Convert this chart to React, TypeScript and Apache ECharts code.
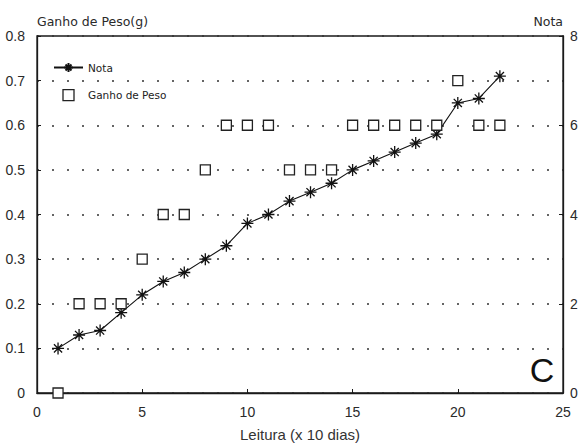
import React, { useEffect, useRef } from "react";
import * as echarts from "echarts";

const leituras = [1, 2, 3, 4, 5, 6, 7, 8, 9, 10, 11, 12, 13, 14, 15, 16, 17, 18, 19, 20, 21, 22];
const nota = [1.0, 1.3, 1.4, 1.8, 2.2, 2.5, 2.7, 3.0, 3.3, 3.8, 4.0, 4.3, 4.5, 4.7, 5.0, 5.2, 5.4, 5.6, 5.8, 6.5, 6.6, 7.1];
const ganhoPeso = [0, 0.2, 0.2, 0.2, 0.3, 0.4, 0.4, 0.5, 0.6, 0.6, 0.6, 0.5, 0.5, 0.5, 0.6, 0.6, 0.6, 0.6, 0.6, 0.7, 0.6, 0.6];

const ASTERISK = "path://M5,0L5,10M0,5L10,5M1.6,1.6L8.4,8.4M1.6,8.4L8.4,1.6";
const SQUARE = "path://M0,0L10,0L10,10L0,10Z";

export default function App() {
  const ref = useRef<HTMLDivElement>(null);
  useEffect(() => {
    if (!ref.current) return;
    const chart = echarts.init(ref.current, null, { renderer: "svg" });
    const labelFont = { fontFamily: "Liberation Sans, Arial, sans-serif", fontSize: 14, color: "#2a2a2a" };
    const nameFont = { fontFamily: "DejaVu Sans, sans-serif", fontSize: 12.5, color: "#2a2a2a" };
    chart.setOption({
      animation: false,
      backgroundColor: "#ffffff",
      grid: {
        left: 37,
        right: 21,
        top: 36,
        bottom: 55,
        show: true,
        borderColor: "#1a1a1a",
        borderWidth: 1.3,
        backgroundColor: "transparent",
      },
      legend: {
        orient: "vertical",
        left: 48,
        top: 57,
        itemWidth: 29,
        itemHeight: 11,
        itemGap: 16,
        textStyle: { fontFamily: "DejaVu Sans, sans-serif", fontSize: 10.5, color: "#222", padding: [0, 0, 0, 0] },
        data: [
          { name: "Nota" },
          { name: "Ganho de Peso", icon: SQUARE, itemStyle: { color: "#ffffff", borderColor: "#222", borderWidth: 1.3 } },
        ],
      },
      xAxis: {
        type: "value",
        min: 0,
        max: 25,
        interval: 5,
        name: "Leitura (x 10 dias)",
        nameLocation: "middle",
        nameGap: 34,
        nameTextStyle: { fontFamily: "Liberation Sans, Arial, sans-serif", fontSize: 15, color: "#333" },
        axisLine: { show: true, lineStyle: { color: "#1a1a1a", width: 1.3 } },
        axisTick: { show: true, inside: true, length: 4, lineStyle: { color: "#1a1a1a" } },
        axisLabel: { ...labelFont, margin: 12 },
        splitLine: { show: false },
      },
      yAxis: [
        {
          type: "value",
          min: 0,
          max: 0.8,
          interval: 0.1,
          position: "left",
          name: "Ganho de Peso(g)",
          nameLocation: "end",
          nameGap: 8,
          nameTextStyle: { ...nameFont, align: "left" },
          axisLine: { show: true, lineStyle: { color: "#1a1a1a", width: 1.3 } },
          axisTick: { show: true, inside: true, length: 4, lineStyle: { color: "#1a1a1a" } },
          axisLabel: {
            ...labelFont,
            margin: 12,
            formatter: (v: number) => (v === 0 ? "0" : v.toFixed(1)),
          },
          splitLine: { show: true, lineStyle: { color: "#333", width: 1.6, type: [2, 13] } },
        },
        {
          type: "value",
          min: 0,
          max: 8,
          interval: 2,
          position: "right",
          name: "Nota",
          nameLocation: "end",
          nameGap: 8,
          nameTextStyle: { ...nameFont, align: "right" },
          axisLine: { show: true, lineStyle: { color: "#1a1a1a", width: 1.3 } },
          axisTick: { show: true, inside: true, length: 4, lineStyle: { color: "#1a1a1a" } },
          axisLabel: { ...labelFont, margin: 7 },
          splitLine: { show: false },
        },
      ],
      series: [
        {
          name: "Nota",
          type: "line",
          yAxisIndex: 1,
          data: leituras.map((x, i) => [x, nota[i]]),
          symbol: ASTERISK,
          symbolSize: 12,
          itemStyle: { color: "#111", borderColor: "#111", borderWidth: 1.3 },
          lineStyle: { color: "#111", width: 1.1 },
          z: 3,
        },
        {
          name: "Ganho de Peso",
          type: "scatter",
          yAxisIndex: 0,
          data: leituras.map((x, i) => [x, ganhoPeso[i]]),
          symbol: "rect",
          symbolSize: 10,
          itemStyle: { color: "#ffffff", borderColor: "#222", borderWidth: 1.3, opacity: 1 },
          z: 4,
        },
      ],
      graphic: [
        {
          type: "text",
          style: {
            text: "C",
            x: 542,
            y: 370,
            textAlign: "center",
            textVerticalAlign: "middle",
            fontFamily: "Liberation Sans, Arial, sans-serif",
            fontSize: 34,
            fill: "#111",
          },
        },
      ],
    });
    return () => chart.dispose();
  }, []);
  return <div ref={ref} style={{ width: 584, height: 448, position: "absolute", left: 0, top: 0 }} />;
}
